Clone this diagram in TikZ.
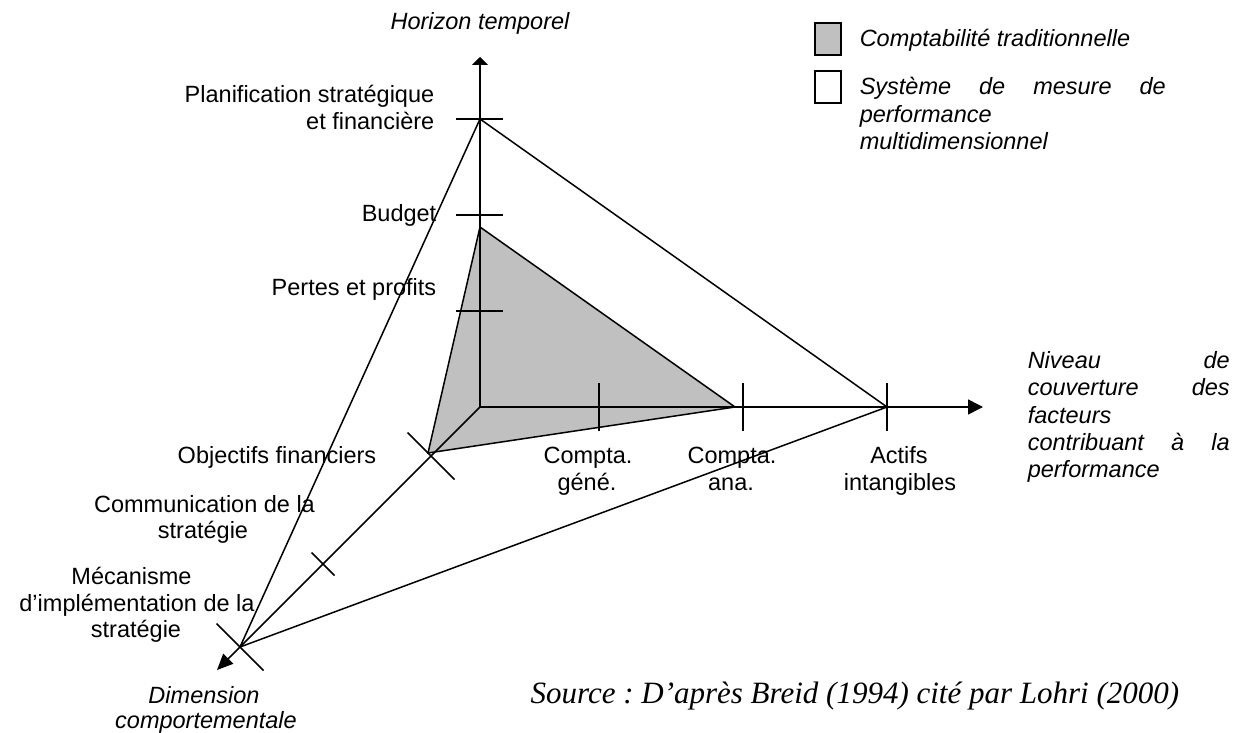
\documentclass[tikz,border=0pt]{standalone}
\usepackage{fontspec}
\setmainfont{Liberation Sans}
\newfontfamily\srcfont{Liberation Serif}
\usetikzlibrary{arrows.meta}
\definecolor{silvergray}{HTML}{C0C0C0}
\frenchspacing
\begin{document}
\begin{tikzpicture}[x=1pt, y=-1pt, line width=1.5pt,
  lab/.style={font=\fontsize{23.5}{27}\selectfont, inner sep=0pt, anchor=base},
  ital/.style={font=\fontsize{23.5}{27}\selectfont\itshape, inner sep=0pt, anchor=base},
  axis/.style={-{Triangle[length=15pt,width=15pt]}},
  legbox/.style={draw, line width=2pt, minimum width=26pt, minimum height=32pt, inner sep=0pt}
]
\useasboundingbox (0,0) rectangle (1243,733);
% key points
\coordinate (O) at (480,407);
\coordinate (ytip) at (480,57);
\coordinate (xtip) at (983,407);
\coordinate (ztip) at (217,670);
\coordinate (P1) at (480,119);
\coordinate (B) at (480,215);
\coordinate (PP) at (480,311);
\coordinate (G1) at (480,227);
\coordinate (CG) at (599,407);
\coordinate (CA) at (743,407);
\coordinate (G2) at (735,407);
\coordinate (AI) at (887,407);
\coordinate (D1) at (431,456);
\coordinate (D2) at (323,564);
\coordinate (D3) at (240,647);
\coordinate (G3) at (428,453);
% grey triangle
\fill[silvergray] (G1) -- (G2) -- (G3) -- cycle;
\draw[line join=miter] (G1) -- (G2) -- (G3) -- cycle;
% big triangle
\draw (P1) -- (AI) -- (D3) -- cycle;
% axes
\draw[-{Triangle[length=8pt,width=16pt]}] (O) -- (ytip);
\draw[axis] (O) -- (xtip);
\draw[-{Triangle[length=16pt,width=14pt]}] (O) -- (ztip);
% ticks
\draw (P1) ++(-24,0) -- ++(47,0);
\draw (B) ++(-24,0) -- ++(47,0);
\draw (PP) ++(-24,0) -- ++(47,0);
\draw (CG) ++(0,-24) -- ++(0,48);
\draw (CA) ++(0,-24) -- ++(0,48);
\draw (AI) ++(0,-24) -- ++(0,48);
\draw (D1) ++(-23.5,-23.5) -- ++(47,47);
\draw (D2) ++(-11.5,-11.5) -- ++(23,23);
\draw (D3) ++(-23.5,-23.5) -- ++(47,47);
% labels
\node[ital] (ht) at (480,30) {Horizon temporel};
\node[lab, anchor=base east] (pl1) at (435,103) {Planification stratégique};
\node[lab, anchor=base east] (pl2) at (435,130) {et financière};
\node[lab, anchor=base east] (bu) at (437,222) {Budget};
\node[lab, anchor=base east] (pe) at (437,295) {Pertes et profits};
\node[lab, anchor=base east] (of) at (377,463) {Objectifs financiers};
\node[lab] (co1) at (204.5,512) {Communication de la};
\node[lab] (co2) at (203,538) {stratégie};
\node[lab] (me1) at (131.5,584) {Mécanisme};
\node[lab] (me2) at (137,611) {d’implémentation de la};
\node[lab] (me3) at (136,637) {stratégie};
\node[ital] (dc1) at (204,703) {Dimension};
\node[ital] (dc2) at (206,728) {comportementale};
\node[lab] (cg1) at (588,463) {Compta.};
\node[lab] (cg2) at (587,490) {géné.};
\node[lab] (ca1) at (732,463) {Compta.};
\node[lab] (ca2) at (731,490) {ana.};
\node[lab] (ai1) at (899,463) {Actifs};
\node[lab] (ai2) at (900,490) {intangibles};
\node[ital, anchor=base west] (nv1) at (1027,368) {\makebox[202pt][s]{Niveau de}};
\node[ital, anchor=base west] (nv2) at (1027,395) {\makebox[202pt][s]{couverture des}};
\node[ital, anchor=base west] (nv3) at (1027,423) {facteurs};
\node[ital, anchor=base west] (nv4) at (1027,450) {\makebox[202pt][s]{contribuant à la}};
\node[ital, anchor=base west] (nv5) at (1027,477) {performance};
% legend
\node[legbox, fill=silvergray] (lg1) at (828,39) {};
\node[legbox] (lg2) at (828,87) {};
\node[ital, anchor=base west] (lt1) at (859,47) {Comptabilité traditionnelle};
\node[ital, anchor=base west] (lt2) at (859,95) {\makebox[306pt][s]{Système de mesure de}};
\node[ital, anchor=base west] (lt3) at (859,123) {performance};
\node[ital, anchor=base west] (lt4) at (859,150) {multidimensionnel};
% source
\node[inner sep=0pt, anchor=base east, font=\srcfont\fontsize{31}{35}\selectfont\itshape] (src) at (1180,703) {Source : D’après Breid (1994) cité par Lohri (2000)};
\end{tikzpicture}
\end{document}
